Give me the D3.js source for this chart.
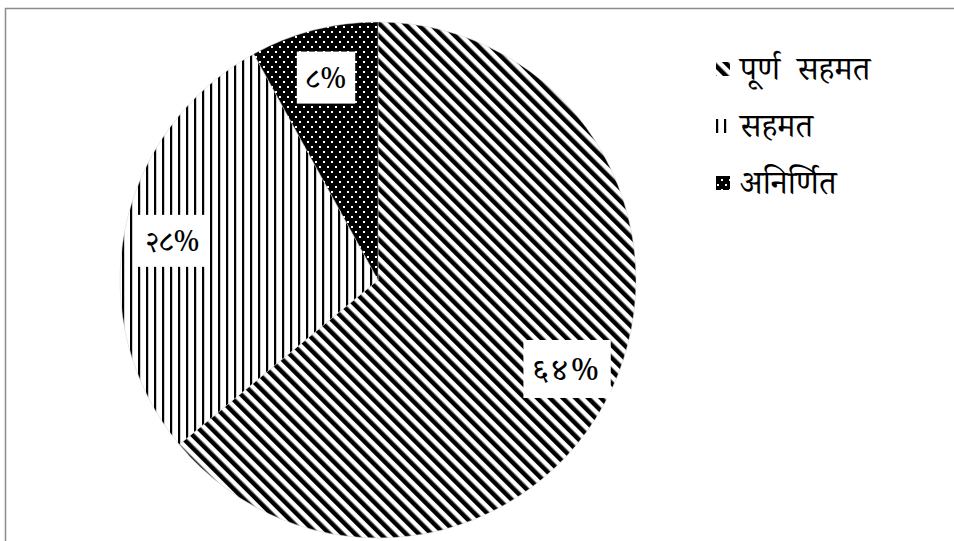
<!DOCTYPE html>
<html>
<head>
<meta charset="utf-8">
<script src="https://cdn.jsdelivr.net/npm/d3@7"></script>
<style>
  body { margin: 0; background: #fff; }
  svg text { font-family: "Noto Serif Devanagari", "Noto Sans Devanagari", "Lohit Devanagari", "Mangal", "Noto Sans", serif; }
</style>
</head>
<body>
<svg id="chart" width="954" height="541"></svg>
<script>
  // categories and values (percent)
  var categories = ["पूर्ण  सहमत", "सहमत", "अनिर्णित"];
  var values = [64, 28, 8];
  var valueLabels = ["६४%", "२८%", "८%"];
  var patternIds = ["pat-diag", "pat-vert", "pat-dots"];

  var svg = d3.select("#chart");
  var width = +svg.attr("width"), height = +svg.attr("height");

  // frame (only top and left edges show in the picture)
  svg.append("rect")
    .attr("x", 5.5).attr("y", 8.5)
    .attr("width", width + 20).attr("height", height + 20)
    .attr("fill", "#fff")
    .attr("stroke", "#8c8c8c")
    .attr("stroke-width", 1.5);

  var defs = svg.append("defs");

  // diagonal "\" stripes
  var pd = defs.append("pattern")
    .attr("id", "pat-diag")
    .attr("patternUnits", "userSpaceOnUse")
    .attr("width", 9).attr("height", 9)
    .attr("patternTransform", "rotate(-45)");
  pd.append("rect").attr("width", 9).attr("height", 9).attr("fill", "#fff");
  pd.append("rect").attr("width", 4.5).attr("height", 9).attr("fill", "#000");

  // vertical lines
  var pv = defs.append("pattern")
    .attr("id", "pat-vert")
    .attr("patternUnits", "userSpaceOnUse")
    .attr("width", 8).attr("height", 8);
  pv.append("rect").attr("width", 8).attr("height", 8).attr("fill", "#fff");
  pv.append("rect").attr("width", 2.2).attr("height", 8).attr("fill", "#000");

  // black with small white dots
  var pdots = defs.append("pattern")
    .attr("id", "pat-dots")
    .attr("patternUnits", "userSpaceOnUse")
    .attr("width", 8).attr("height", 10);
  pdots.append("rect").attr("width", 8).attr("height", 10).attr("fill", "#000");
  pdots.append("rect").attr("x", 1).attr("y", 1).attr("width", 2).attr("height", 2).attr("fill", "#fff");
  pdots.append("rect").attr("x", 5).attr("y", 6).attr("width", 2).attr("height", 2).attr("fill", "#fff");

  var cx = 378, cy = 280, radius = 258;

  var pie = d3.pie().sort(null).value(function(d) { return d; });
  var arc = d3.arc().innerRadius(0).outerRadius(radius);
  var labelArc = d3.arc().innerRadius(radius * 0.81).outerRadius(radius * 0.81);

  var g = svg.append("g").attr("transform", "translate(" + cx + "," + cy + ")");
  var arcs = pie(values);

  g.selectAll("path.slice")
    .data(arcs)
    .enter().append("path")
    .attr("class", "slice")
    .attr("d", arc)
    .attr("fill", function(d, i) { return "url(#" + patternIds[i] + ")"; })
    .attr("stroke", "#d0d0d0")
    .attr("stroke-width", 0.5);

  // value labels on white boxes
  var lab = g.selectAll("g.lab")
    .data(arcs)
    .enter().append("g")
    .attr("class", "lab")
    .attr("transform", function(d) { return "translate(" + labelArc.centroid(d) + ")"; });

  lab.append("text")
    .attr("text-anchor", "middle")
    .attr("dy", "0.35em")
    .attr("font-size", function(d, i) { return i === 0 ? 31 : 29; })
    .attr("letter-spacing", function(d, i) { return i === 0 ? 3 : 0; })
    .attr("fill", "#000")
    .text(function(d, i) { return valueLabels[i]; });

  lab.each(function(d, i) {
    var t = d3.select(this).select("text");
    var b = t.node().getBBox();
    var h = i === 0 ? 58 : 52;
    d3.select(this).insert("rect", "text")
      .attr("x", b.x - 9).attr("y", -h / 2)
      .attr("width", b.width + 18).attr("height", h)
      .attr("fill", "#fff");
  });

  // legend
  var legend = svg.append("g").attr("transform", "translate(716,0)");
  var rows = legend.selectAll("g.row")
    .data(categories)
    .enter().append("g")
    .attr("class", "row")
    .attr("transform", function(d, i) { return "translate(0," + (69 + i * 57) + ")"; });

  rows.append("rect")
    .attr("x", 0).attr("y", -7)
    .attr("width", 14).attr("height", 14)
    .attr("fill", function(d, i) { return "url(#" + patternIds[i] + ")"; });

  rows.append("text")
    .attr("x", 24)
    .attr("dy", "0.33em")
    .attr("font-size", 33)
    .attr("fill", "#000")
    .style("white-space", "pre")
    .text(function(d) { return d; });
</script>
</body>
</html>
